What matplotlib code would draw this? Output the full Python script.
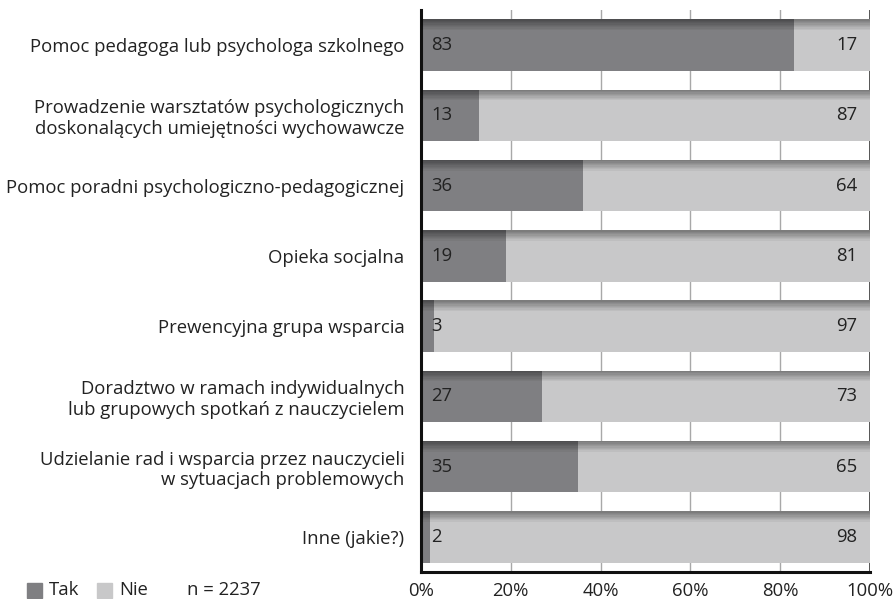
import matplotlib
matplotlib.use("Agg")
import matplotlib.pyplot as plt
from matplotlib.patches import Rectangle

# data
categories = [
    "Pomoc pedagoga lub psychologa szkolnego",
    "Prowadzenie warsztatów psychologicznych\ndoskonalących umiejętności wychowawcze",
    "Pomoc poradni psychologiczno-pedagogicznej",
    "Opieka socjalna",
    "Prewencyjna grupa wsparcia",
    "Doradztwo w ramach indywidualnych\nlub grupowych spotkań z nauczycielem",
    "Udzielanie rad i wsparcia przez nauczycieli\nw sytuacjach problemowych",
    "Inne (jakie?)",
]
tak = [83, 13, 36, 19, 3, 27, 35, 2]
nie = [17, 87, 64, 81, 97, 73, 65, 98]
xticks = [0, 20, 40, 60, 80, 100]
series_names = ["Tak", "Nie"]
n_label = "n = 2237"

C_TAK = "#7f7f82"
C_NIE = "#c8c8c9"
FONT = "Open Sans"
FS = 13.3
BAR_H = 0.73

plt.rcParams["font.family"] = [FONT, "DejaVu Sans"]

fig = plt.figure(figsize=(8.95, 5.99), dpi=100)
ax = fig.add_axes([421 / 895, 27 / 599, 449 / 895, 562 / 599])

ys = list(range(len(categories)))
ax.barh(ys, tak, height=BAR_H, color=C_TAK, zorder=2)
ax.barh(ys, nie, left=tak, height=BAR_H, color=C_NIE, zorder=2)

# darker shading along the top edge of each bar (fake gradient)
steps = 8
band = 0.15
for y in ys:
    top = y - BAR_H / 2
    for k in range(steps):
        ax.add_patch(Rectangle((0, top + k * band / steps), 100, band / steps,
                               color="black", alpha=0.38 * (1 - k / steps),
                               lw=0, zorder=3))

for y, t, n in zip(ys, tak, nie):
    ax.text(2.2, y, str(t), va="center", ha="left", fontsize=FS,
            color="#222222", zorder=4)
    ax.text(97.2, y, str(n), va="center", ha="right", fontsize=FS,
            color="#222222", zorder=4)

for x in xticks[1:-1]:
    ax.axvline(x, color="#a8a8a8", lw=1, zorder=1)
ax.axvline(100, color="#222222", lw=1.8, zorder=1)

ax.set_xlim(0, 100)
ax.set_ylim(len(categories) - 0.5, -0.5)
ax.set_xticks(xticks)
ax.set_xticklabels([f"{v}%" for v in xticks], fontsize=FS, color="#222222")
ax.set_yticks(ys)
ax.set_yticklabels(categories, fontsize=FS, color="#222222",
                   multialignment="right", linespacing=1.2)
ax.tick_params(axis="x", length=0, pad=7)
ax.tick_params(axis="y", length=0, pad=12)
for s in ["top", "right"]:
    ax.spines[s].set_visible(False)
for s in ["left", "bottom"]:
    ax.spines[s].set_color("#111111")
    ax.spines[s].set_linewidth(2.2)

# legend at bottom left
W, H = 895, 599
for name, col, x0 in zip(series_names, [C_TAK, C_NIE], [27, 97]):
    fig.patches.append(Rectangle((x0 / W, 1 - 598 / H), 15 / W, 15 / H,
                                 color=col, transform=fig.transFigure))
    fig.text((x0 + 22) / W, 1 - 590 / H, name, fontsize=FS, va="center",
             ha="left", color="#222222")
fig.text(187 / W, 1 - 590 / H, n_label, fontsize=FS, va="center",
         ha="left", color="#222222")

fig.savefig("out.png", dpi=100)
